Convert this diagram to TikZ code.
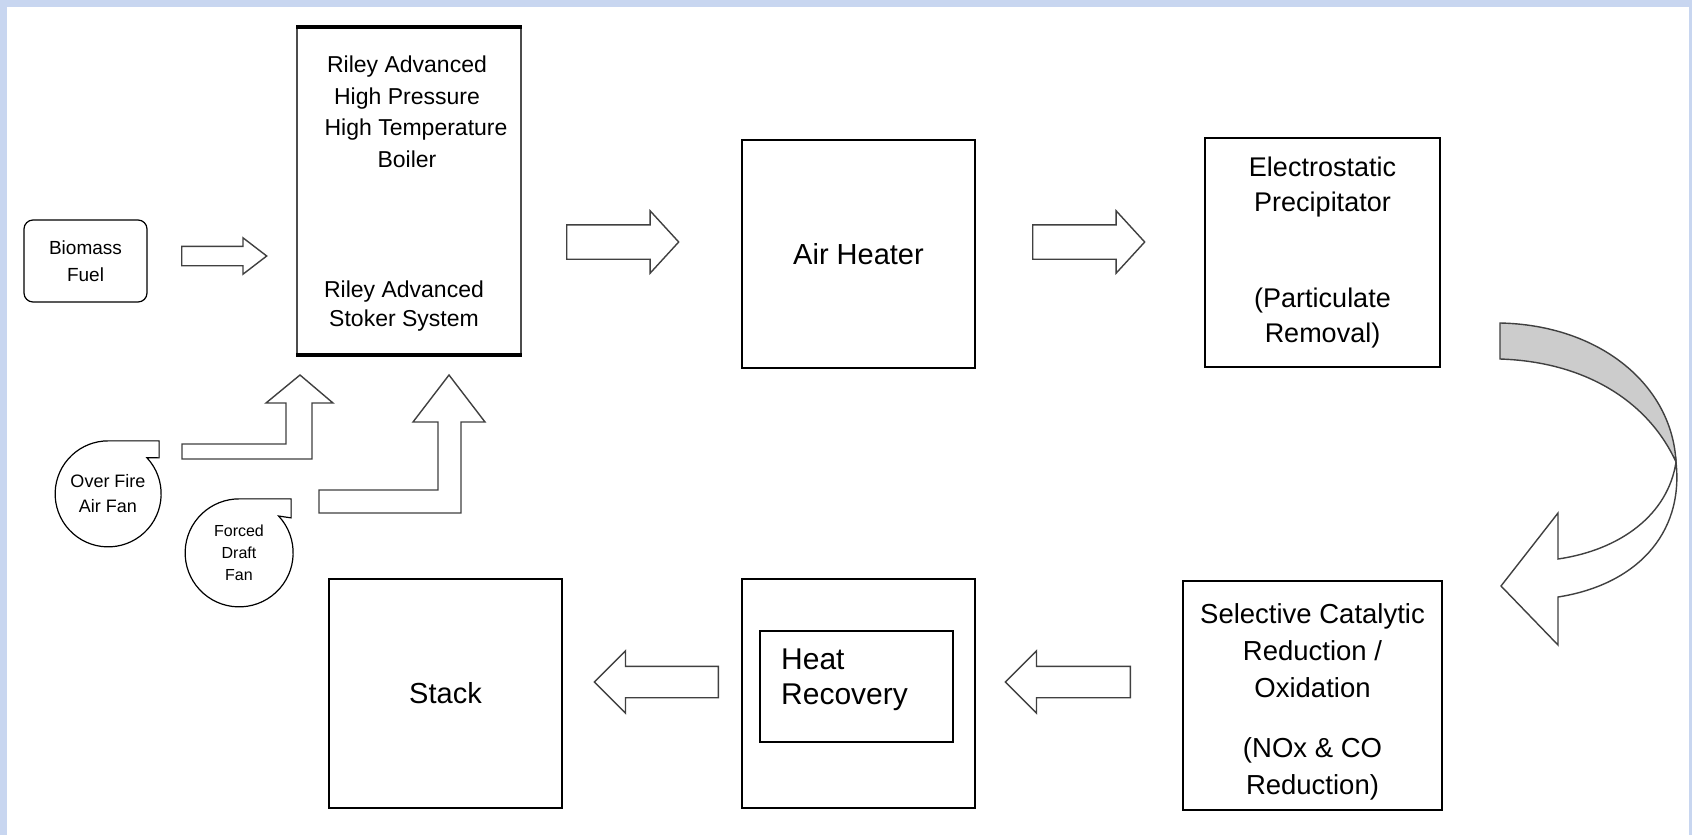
\documentclass[tikz,border=0pt]{standalone}
\usepackage{fontspec}
\setmainfont{Liberation Sans}
\usetikzlibrary{shapes.arrows}
\definecolor{frame}{RGB}{200,214,240}
\definecolor{ribbon}{RGB}{204,204,204}
\newcommand{\fs}[2]{\fontsize{#1}{#2}\selectfont}

\begin{document}
\begin{tikzpicture}[x=1pt, y=-1pt,
    box/.style={draw, line width=1.6pt, align=center, inner sep=0pt},
    fan/.style={circle, minimum size=106pt, inner sep=0pt, align=center},
    flow/.style={draw=black!75, line width=1.4pt, fill=white, line join=miter},
    fatarrow/.style={single arrow, flow, inner xsep=0pt, single arrow head indent=0pt}]
  \useasboundingbox (0,0) rectangle (1692,835);
  \fill[frame] (0,0) rectangle (1692,835);
  \fill[white] (7,7) rectangle (1689,835);

  % fuel and boiler
  \node[box, rounded corners=9pt, line width=1.2pt, minimum width=123pt, minimum height=82pt, font=\fs{19}{27}] (fuel) at (85.5,261) {Biomass\\Fuel};
  \node[box, draw=black!70, minimum width=224pt, minimum height=326pt] (boiler) at (409,191) {};
  \draw[line width=4pt] (boiler.north west) -- (boiler.north east);
  \draw[line width=4pt] (boiler.south west) -- (boiler.south east);
  \node[font=\fs{23}{31.5}, align=center] (boilertext) at (407,112) {Riley Advanced\\High Pressure\\\hspace*{18pt}High Temperature\\Boiler};
  \node[font=\fs{23}{29}, align=center] (stokertext) at (404,306) {Riley Advanced\\Stoker System};

  % gas path
  \node[box, minimum width=233pt, minimum height=228pt, font=\fs{29}{35}] (ah) at (858.5,254) {Air Heater};
  \node[box, minimum width=235pt, minimum height=229pt, font=\fs{27}{35}] (esp) at (1322.5,252.5) {Electrostatic\\Precipitator\\[61pt](Particulate\\Removal)};
  \node[box, minimum width=259pt, minimum height=229pt] (scr) at (1312.5,695.5) {};
  \node[font=\fs{27.5}{37}, align=center] (scrtext) at (1312.5,702) {Selective Catalytic\\Reduction /\\Oxidation\\[23pt](NOx \& CO\\Reduction)};
  \node[box, minimum width=233pt, minimum height=229pt] (hr) at (858.5,693.5) {};
  \node[box, minimum width=193pt, minimum height=111pt] (hrin) at (856.5,686.5) {};
  \node[font=\fs{30}{35}, align=left, anchor=west, inner sep=0pt] (hrtext) at (781,679.5) {Heat\\Recovery};
  \node[box, minimum width=233pt, minimum height=229pt, font=\fs{29}{35}] (stack) at (445.5,693.5) {Stack};

  % fans
  \node[fan, font=\fs{18}{25}] (ofa) at (108,494) {Over Fire\\Air Fan};
  \draw[line width=1.2pt] (ofa.43) arc[start angle=43, delta angle=-313, radius=53pt] -- ++(51,0) -- ++(0,17) -- cycle;
  \node[fan, minimum size=108pt, font=\fs{16}{22}] (fdf) at (239,553) {Forced\\Draft\\Fan};
  \draw[line width=1.2pt] (fdf.43) arc[start angle=43, delta angle=-313, radius=54pt] -- ++(52,0) -- ++(0,19) -- cycle;

  % block arrows
  \node[fatarrow, minimum height=85pt, inner ysep=9pt, single arrow head extend=8.5pt, single arrow tip angle=75, anchor=tail] (a0) at (181,256) {};
  \node[fatarrow, minimum height=112pt, inner ysep=16.5pt, single arrow head extend=14pt, single arrow tip angle=95, anchor=tail] (a1) at (566,242) {};
  \node[fatarrow, minimum height=112pt, inner ysep=16.5pt, single arrow head extend=14pt, single arrow tip angle=95, anchor=tail] (a2) at (1032,242) {};
  \node[fatarrow, shape border rotate=180, minimum height=125pt, inner ysep=15pt, single arrow head extend=15.5pt, single arrow tip angle=90, anchor=tail] (a3) at (1131,682) {};
  \node[fatarrow, shape border rotate=180, minimum height=124pt, inner ysep=15pt, single arrow head extend=15.5pt, single arrow tip angle=90, anchor=tail] (a4) at (719,682) {};

  % air ducts into the boiler
  \draw[flow] (182,444) -- (286,444) -- (286,403) -- (266,403) -- (300,375) -- (333,403) -- (312,403) -- (312,459) -- (182,459) -- cycle;
  \draw[flow] (319,490) -- (438,490) -- (438,422) -- (413,422) -- (449,375) -- (485,422) -- (461,422) -- (461,513) -- (319,513) -- cycle;

  % turn from esp down to scr
  \draw[flow, fill=ribbon] (1500,323) .. controls (1600,325) and (1672,385) .. (1676,462) .. controls (1650,405) and (1590,362) .. (1500,359) -- cycle;
  \draw[flow] (1676,462) .. controls (1668,515) and (1620,550) .. (1558,559) -- (1558,513) -- (1501,586) -- (1558,645) -- (1558,597) .. controls (1635,585) and (1684,535) .. (1676,462) -- cycle;
\end{tikzpicture}
\end{document}
